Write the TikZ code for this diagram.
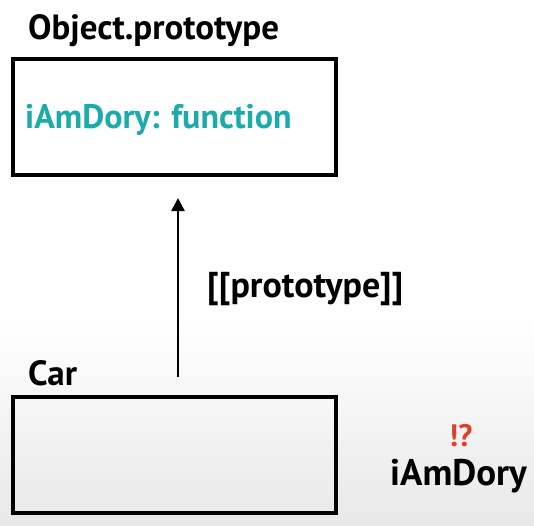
\documentclass[tikz,border=0pt]{standalone}
\usepackage{fontspec}
\setmainfont{PT Sans}
\definecolor{teal1}{HTML}{1AABAA}
\definecolor{red1}{HTML}{E0402A}
\usetikzlibrary{arrows.meta}
\begin{document}
\begin{tikzpicture}[x=1pt,y=-1pt,
  box/.style={draw=black,line width=3.2pt},
  lbl/.style={font=\bfseries\fontsize{35}{37}\selectfont,inner sep=0pt,anchor=base west}]
\useasboundingbox (0,0) rectangle (534,525);
\fill[white] (0,0) rectangle (534,320);
\shade[top color=white,bottom color=black!9] (0,320) rectangle (534,525);
\draw[box] (13,59) rectangle (336,175);
\draw[box] (13,397) rectangle (336,513);
\coordinate (top) at (178,198);
\coordinate (bot) at (178,377);
\node[lbl] (objp) at (28,39) {Object.prototype};
\node[lbl,font=\bfseries\fontsize{34}{36}\selectfont,text=teal1] (fn) at (25,128) {iAmDory: function};
\node[lbl,font=\bfseries\fontsize{36}{38}\selectfont] (prot) at (207,297) {[[prototype]]};
\node[lbl] (car) at (28,385) {Car};
\node[lbl,text=red1,font=\bfseries\fontsize{31}{33}\selectfont] (ex) at (449,446) {!?};
\node[lbl,font=\bfseries\fontsize{37}{39}\selectfont] (iam) at (390,485) {iAmDory};
\draw[line width=2.6pt,-{Triangle[length=13pt,width=13pt]}] (bot) -- (top);
\end{tikzpicture}
\end{document}
